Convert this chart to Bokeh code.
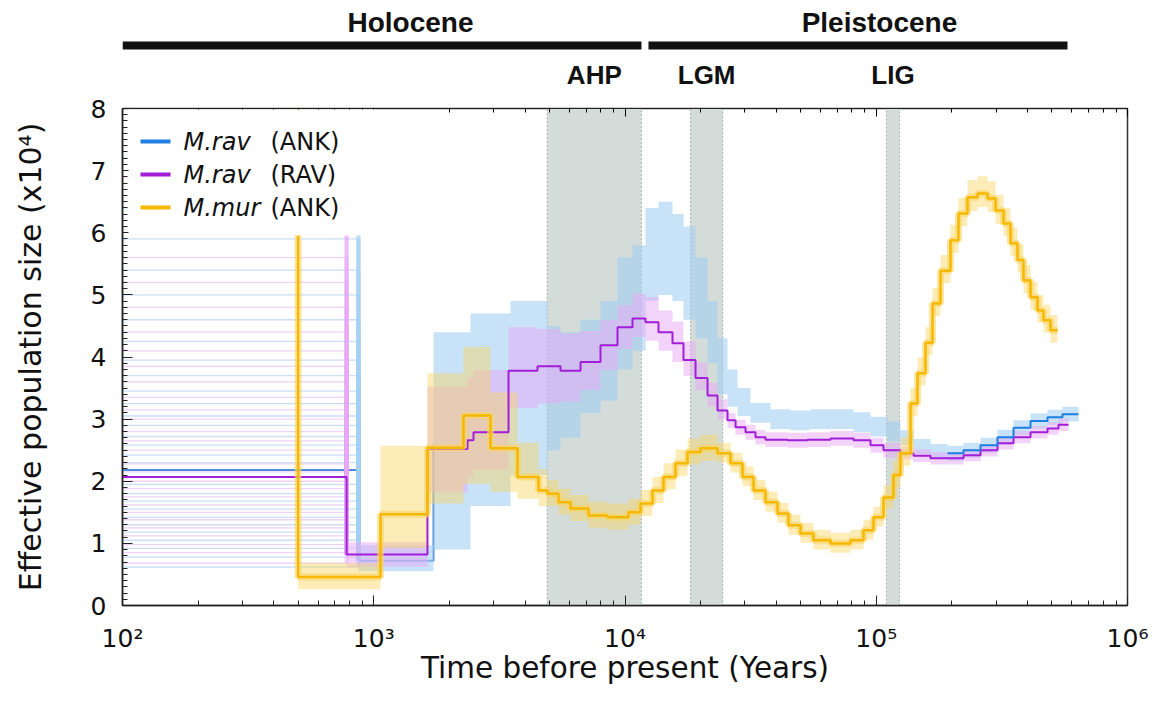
import numpy as np
from bokeh.plotting import figure
from bokeh.layouts import column
from bokeh.models import (Range1d, LogAxis, LogTicker, SingleIntervalTicker,
                          CustomJSTickFormatter, BoxAnnotation, Label, ColumnDataSource)
from bokeh.core.properties import value
from bokeh.embed import file_html
from bokeh.resources import INLINE

# ---------------- data ----------------
period_names = ["Holocene", "Pleistocene"]
period_start = [100, 12400]
period_end = [11630, 577000]
period_label_x = [1400, 103000]

epoch_names = ["AHP", "LGM", "LIG"]
epoch_start = [4900, 18230, 109800]
epoch_end = [11630, 24500, 123700]

legend_species = ["M.rav", "M.rav", "M.mur"]
legend_pops = ["(ANK)", "(RAV)", "(ANK)"]

# M.rav (ANK) - step start times (years) and Ne (x10^4)
blu_t = [100, 869, 1729, 2427, 3503, 4914, 5538, 6652, 7990, 9336,
         10712, 12066, 13594, 15455, 17094, 19086, 21303, 23348, 25586, 28050,
         31590, 37940, 45570, 54730, 65763, 81204, 94860, 110900, 124900, 140700,
         164400, 192100, 222500, 260000, 303800, 351800, 411100, 480400, 551200, 638300]
blu_v = [2.18, 0.72, 2.6, 2.9, 3.2, 3.3, 3.4, 3.9, 4.2, 4.75,
         4.95, 5.65, 5.85, 5.75, 5.45, 5.0, 4.4, 3.85, 3.5, 3.25,
         3.10, 3.0, 2.98, 3.0, 3.0, 2.95, 2.88, 2.80, 2.70, 2.56,
         2.48, 2.45, 2.50, 2.58, 2.71, 2.86, 2.97, 3.03, 3.08, 3.08]
blu_dn = [0, 0.17, 1.7, 1.3, 1.1, 0.8, 0.7, 0.8, 0.9, 0.95,
          0.85, 0.75, 0.85, 0.85, 0.85, 0.7, 0.5, 0.45, 0.3, 0.2,
          0.16, 0.16, 0.16, 0.16, 0.16, 0.16, 0.16, 0.16, 0.12, 0.12,
          0.12, 0.12, 0.12, 0.12, 0.12, 0.12, 0.12, 0.12, 0.12, 0.12]
blu_up = [0, 0.25, 1.8, 1.8, 1.7, 1.2, 1.0, 0.7, 0.7, 0.85,
          0.85, 0.75, 0.65, 0.55, 0.65, 0.6, 0.5, 0.45, 0.3, 0.25,
          0.16, 0.16, 0.16, 0.16, 0.16, 0.16, 0.16, 0.16, 0.12, 0.12,
          0.12, 0.12, 0.12, 0.12, 0.12, 0.12, 0.12, 0.12, 0.12, 0.12]
blu_boot_levels = [0.62, 0.78, 0.92, 1.05, 1.18, 1.3, 1.42, 1.55, 1.68, 1.8,
                   1.95, 2.3, 2.42, 2.58, 2.72, 2.9, 3.05, 3.25, 3.45, 3.7,
                   3.95, 4.25, 4.6, 5.0, 5.4, 5.9, 6.4, 7.2]

# M.rav (RAV)
pur_t = [100, 780, 1636, 2361, 2495, 3439, 4484, 5538, 6652, 7990,
         9336, 10712, 12066, 13594, 15455, 17094, 19086, 21303, 23348, 25586,
         27542, 30180, 33068, 36238, 44357, 53257, 65763, 81204, 94860, 106878,
         124900, 140700, 164400, 192100, 222500, 260000, 303800, 351800, 411100, 480400,
         531500, 582500]
pur_v = [2.07, 0.82, 2.52, 2.66, 2.79, 3.78, 3.85, 3.78, 3.92, 4.19,
         4.48, 4.62, 4.56, 4.40, 4.22, 3.95, 3.66, 3.38, 3.14, 2.98,
         2.87, 2.79, 2.71, 2.67, 2.66, 2.67, 2.69, 2.66, 2.58, 2.50,
         2.45, 2.41, 2.37, 2.37, 2.42, 2.50, 2.61, 2.71, 2.79, 2.85,
         2.91, 2.91]
pur_dn = [0, 0.2, 0.7, 0.6, 0.6, 0.6, 0.6, 0.5, 0.45, 0.4,
          0.35, 0.3, 0.3, 0.3, 0.3, 0.25, 0.2, 0.18, 0.15, 0.12,
          0.12, 0.12, 0.12, 0.12, 0.12, 0.12, 0.12, 0.12, 0.12, 0.12,
          0.1, 0.1, 0.1, 0.1, 0.1, 0.1, 0.1, 0.1, 0.1, 0.1,
          0.1, 0.1]
pur_up = [0, 0.2, 1.0, 1.0, 1.0, 0.7, 0.6, 0.6, 0.5, 0.4,
          0.35, 0.4, 0.4, 0.35, 0.35, 0.3, 0.25, 0.2, 0.18, 0.12,
          0.12, 0.12, 0.12, 0.12, 0.12, 0.12, 0.12, 0.12, 0.12, 0.12,
          0.1, 0.1, 0.1, 0.1, 0.1, 0.1, 0.1, 0.1, 0.1, 0.1,
          0.1, 0.1]
pur_boot_levels = [0.68, 0.85, 0.98, 1.12, 1.25, 1.38, 1.5, 1.62, 1.75, 1.88,
                   2.0, 2.15, 2.28, 2.5, 2.65, 2.8, 3.0, 3.15, 3.35, 3.6,
                   3.85, 4.1, 4.4, 4.8, 5.2, 5.6, 6.1, 6.9]

# M.mur (ANK)
yel_t = [100, 500, 1064, 1636, 2276, 2915, 3734, 4527, 4914, 5437,
         6069, 7155, 8518, 10325, 11526, 12868, 14231, 15886, 17737, 19978,
         23348, 26293, 29360, 32473, 36238, 40458, 44740, 49945, 56264, 65763,
         78980, 88970, 97523, 106878, 117140, 124900, 136900, 146000, 157100, 167500,
         180200, 197500, 212500, 230800, 253000, 277300, 298400, 321000, 342200, 364900,
         385600, 411100, 438400, 463200, 493800, 526600]
yel_v = [9.0, 0.46, 1.47, 2.54, 3.06, 2.53, 2.07, 1.85, 1.80, 1.66,
         1.56, 1.45, 1.42, 1.50, 1.64, 1.85, 2.07, 2.29, 2.47, 2.53,
         2.45, 2.29, 2.07, 1.85, 1.66, 1.48, 1.29, 1.16, 1.05, 1.00,
         1.05, 1.21, 1.42, 1.74, 2.10, 2.45, 3.25, 3.74, 4.23, 4.86,
         5.39, 5.88, 6.31, 6.57, 6.63, 6.55, 6.36, 6.15, 5.83, 5.56,
         5.23, 4.96, 4.75, 4.59, 4.43, 4.43]
yel_dn = [0, 0.2, 0.55, 0.9, 1.1, 0.7, 0.35, 0.25, 0.2, 0.2,
          0.2, 0.2, 0.2, 0.2, 0.2, 0.2, 0.2, 0.2, 0.2, 0.2,
          0.15, 0.15, 0.15, 0.15, 0.15, 0.15, 0.15, 0.15, 0.15, 0.15,
          0.15, 0.15, 0.15, 0.18, 0.2, 0.2, 0.2, 0.2, 0.2, 0.2,
          0.2, 0.2, 0.2, 0.22, 0.22, 0.22, 0.22, 0.2, 0.2, 0.2,
          0.2, 0.2, 0.2, 0.2, 0.2, 0.2]
yel_up = [0, 0.22, 1.1, 1.2, 1.1, 0.9, 0.55, 0.35, 0.22, 0.22,
          0.22, 0.22, 0.22, 0.22, 0.22, 0.22, 0.22, 0.22, 0.22, 0.22,
          0.17, 0.17, 0.17, 0.17, 0.17, 0.17, 0.17, 0.17, 0.17, 0.17,
          0.17, 0.17, 0.17, 0.2, 0.22, 0.25, 0.25, 0.25, 0.25, 0.25,
          0.25, 0.25, 0.25, 0.28, 0.28, 0.28, 0.25, 0.25, 0.25, 0.25,
          0.25, 0.25, 0.25, 0.25, 0.25, 0.25]

# ---------------- styles ----------------
BLUE, BLUE_L = "#1f80e2", "#a3cff4"
PURP, PURP_L = "#a21ed8", "#e8a8f5"
YELL, YELL_L = "#f6b800", "#f9d461"
SHADE = "#d3dcd8"
FONT = "DejaVu Sans"

TOP_H = 90
xr = Range1d(100, 1e6)

# ---------------- top strip (periods / epochs) ----------------
top = figure(width=1156, height=TOP_H, x_axis_type="log", x_range=xr, y_range=Range1d(0, TOP_H),
             output_backend="svg", toolbar_location=None,
             min_border_left=122, min_border_right=29, min_border_top=0, min_border_bottom=0,
             x_axis_location=None, y_axis_location=None, outline_line_color=None)
top.grid.visible = False
top.segment(x0=period_start, x1=period_end, y0=TOP_H - 45, y1=TOP_H - 45, line_width=8,
            line_color="#111111", line_cap="butt")
top.text(x=period_label_x, y=[TOP_H - 22] * 2, text=period_names, text_font=value("Liberation Sans"),
         text_font_style="bold", text_font_size="28px", text_align="center",
         text_baseline="middle", text_color="#111111")
ep_cx = np.sqrt(np.array(epoch_start, float) * np.array(epoch_end, float))
top.text(x=ep_cx, y=[TOP_H - 74] * len(epoch_names), text=epoch_names, text_font=value("Liberation Sans"),
         text_font_style="bold", text_font_size="26px", text_align="center",
         text_baseline="middle", text_color="#111111")

# ---------------- main plot ----------------
p = figure(width=1156, height=713 - TOP_H, x_axis_type="log", x_range=xr, y_range=Range1d(0, 8),
           output_backend="svg", toolbar_location=None,
           min_border_left=122, min_border_right=29, min_border_top=108 - TOP_H, min_border_bottom=108)
p.grid.visible = False
p.outline_line_color = "#333333"
p.outline_line_width = 1.5

# epochs shading
p.quad(left=epoch_start, right=epoch_end, bottom=0, top=8, fill_color=SHADE,
       line_color="#a9b2ae", line_width=1, line_dash="2 2")

# blue main line, early part (later part hidden in the bootstrap cloud)
p.step(x=blu_t[:3], y=blu_v[:3], mode="after", line_color="#4f8bd6", line_width=2)

# left-hand bootstrap lines
nb = len(blu_boot_levels)
p.segment(x0=[blu_t[0]] * nb, x1=[blu_t[1]] * nb, y0=blu_boot_levels, y1=blu_boot_levels,
          line_color="#a9c8ef", line_width=1.3, line_alpha=0.6)
p.segment(x0=[blu_t[1]] * nb, x1=[blu_t[1]] * nb, y0=blu_boot_levels, y1=[blu_v[1]] * nb,
          line_color=BLUE_L, line_width=4, line_alpha=0.5)
npb = len(pur_boot_levels)
p.segment(x0=[pur_t[0]] * npb, x1=[pur_t[1]] * npb, y0=pur_boot_levels, y1=pur_boot_levels,
          line_color="#e2b6ef", line_width=1.3, line_alpha=0.6)
p.segment(x0=[pur_t[1]] * npb, x1=[pur_t[1]] * npb, y0=pur_boot_levels, y1=[pur_v[1]] * npb,
          line_color=PURP_L, line_width=4, line_alpha=0.5)

# bootstrap bands
def band(t, v, dn, up):
    v = np.array(v, float)
    return dict(x=t, y1=v - np.array(dn, float), y2=v + np.array(up, float))

p.varea_step(source=ColumnDataSource(band(blu_t, blu_v, blu_dn, blu_up)), x="x", y1="y1", y2="y2",
             step_mode="after", fill_color=BLUE_L, fill_alpha=0.6)
p.varea_step(source=ColumnDataSource(band(pur_t, pur_v, pur_dn, pur_up)), x="x", y1="y1", y2="y2",
             step_mode="after", fill_color=PURP_L, fill_alpha=0.5)
p.varea_step(source=ColumnDataSource(band(yel_t, yel_v, yel_dn, yel_up)), x="x", y1="y1", y2="y2",
             step_mode="after", fill_color=YELL_L, fill_alpha=0.45)

# main lines
p.step(x=pur_t, y=pur_v, mode="after", line_color=PURP, line_width=2)
k = 31
p.step(x=blu_t[k:], y=blu_v[k:], mode="after", line_color=BLUE, line_width=2)
p.step(x=yel_t, y=yel_v, mode="after", line_color=YELL_L, line_width=7, line_alpha=0.6)
p.step(x=yel_t, y=yel_v, mode="after", line_color=YELL, line_width=2.5)

# axes
sup_code = """
const sup = {"0":"\u2070","1":"\u00b9","2":"\u00b2","3":"\u00b3","4":"\u2074","5":"\u2075",
             "6":"\u2076","7":"\u2077","8":"\u2078","9":"\u2079","-":"\u207b"};
const e = Math.round(Math.log(tick) / Math.LN10);
return "10" + String(e).split("").map(c => sup[c]).join("");
"""
xa = p.xaxis[0]
xa.ticker = LogTicker(num_minor_ticks=10)
xa.formatter = CustomJSTickFormatter(code=sup_code)
ya = p.yaxis[0]
ya.ticker = SingleIntervalTicker(interval=1, num_minor_ticks=10)

for ax in (xa, ya):
    ax.major_tick_in = 10
    ax.major_tick_out = 0
    ax.minor_tick_in = 5
    ax.minor_tick_out = 0
    ax.axis_line_color = "#222222"
    ax.axis_line_width = 1.5
    ax.major_tick_line_color = "#222222"
    ax.minor_tick_line_color = "#222222"
    ax.major_label_text_font = FONT
    ax.major_label_text_font_size = "25px"
    ax.major_label_text_color = "#111111"
    ax.axis_label_text_font = FONT
    ax.axis_label_text_font_style = "normal"
    ax.axis_label_text_color = "#111111"

xa.axis_label = "Time before present (Years)"
xa.axis_label_text_font_size = "29.5px"
xa.major_label_standoff = 18
xa.axis_label_standoff = -5
ya.axis_label = "Effective population size (x10\u2074)"
ya.axis_label_text_font_size = "30px"
ya.major_label_standoff = 16
ya.axis_label_standoff = 40

tx = LogAxis(ticker=LogTicker(num_minor_ticks=10), major_tick_in=8, major_tick_out=0,
             minor_tick_in=4, minor_tick_out=0, major_label_text_font_size="1px",
             major_label_text_alpha=0, major_label_standoff=0, axis_line_color="#222222")
p.add_layout(tx, "above")

# legend (custom, to allow italic species names)
p.add_layout(BoxAnnotation(left=6, right=253, bottom=370, top=496,
                           left_units="screen", right_units="screen",
                           bottom_units="screen", top_units="screen",
                           fill_color="white", fill_alpha=1, line_alpha=0))
row_y = [464, 431, 398]
for sp, pop, col, yy in zip(legend_species, legend_pops, [BLUE, PURP, YELL], row_y):
    p.add_layout(BoxAnnotation(left=18, right=48, bottom=yy - 2, top=yy + 2,
                               left_units="screen", right_units="screen",
                               bottom_units="screen", top_units="screen",
                               fill_color=col, fill_alpha=1, line_alpha=0))
    p.add_layout(Label(x=61, y=yy, x_units="screen", y_units="screen", text=sp,
                       text_font=FONT, text_font_style="italic", text_font_size="24px",
                       text_baseline="middle", text_color="#111111"))
    p.add_layout(Label(x=148, y=yy, x_units="screen", y_units="screen", text=pop,
                       text_font=FONT, text_font_size="24px",
                       text_baseline="middle", text_color="#111111"))

layout = column(top, p, spacing=0)
with open("out.html", "w", encoding="utf-8") as f:
    f.write(file_html(layout, INLINE))
